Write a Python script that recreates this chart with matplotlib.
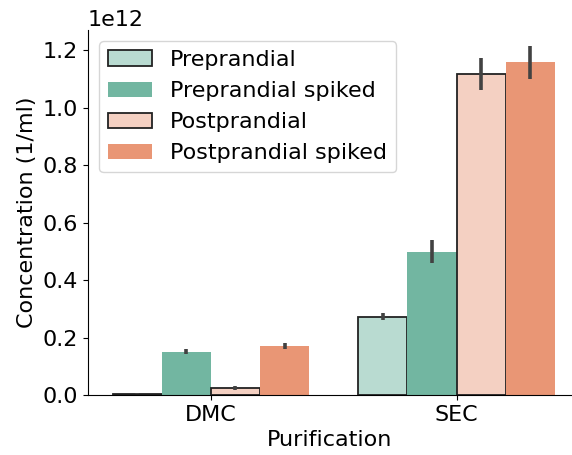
import numpy as np
import matplotlib.pyplot as plt

# mean concentration and error bar bounds (1/ml) per purification method
methods = ['DMC', 'SEC']
groups = ['Preprandial', 'Preprandial spiked', 'Postprandial', 'Postprandial spiked']
means = {
    'Preprandial':         [0.005e12, 0.273e12],
    'Preprandial spiked':  [0.150e12, 0.497e12],
    'Postprandial':        [0.026e12, 1.117e12],
    'Postprandial spiked': [0.171e12, 1.157e12],
}
lows = {
    'Preprandial':         [0.003e12, 0.262e12],
    'Preprandial spiked':  [0.141e12, 0.459e12],
    'Postprandial':        [0.019e12, 1.062e12],
    'Postprandial spiked': [0.159e12, 1.100e12],
}
highs = {
    'Preprandial':         [0.007e12, 0.284e12],
    'Preprandial spiked':  [0.160e12, 0.541e12],
    'Postprandial':        [0.033e12, 1.171e12],
    'Postprandial spiked': [0.182e12, 1.216e12],
}

colors = ['#b9dbd1', '#72b6a1', '#f4d0c2', '#e99675']
edges = ['#222222', 'none', '#222222', 'none']

fs = 16

fig = plt.figure(figsize=(5.72, 4.55), dpi=100)
ax = fig.add_axes([88 / 572, 60 / 455, 1 - 88 / 572, 365 / 455])

x = np.arange(len(methods))
width = 0.8 / len(groups)
for i, g in enumerate(groups):
    pos = x - 0.4 + width * (i + 0.5)
    m = np.array(means[g])
    ax.bar(pos, m, width, color=colors[i], edgecolor=edges[i],
           linewidth=1.3, label=g, zorder=2)
    err = [m - np.array(lows[g]), np.array(highs[g]) - m]
    ax.errorbar(pos, m, yerr=err, fmt='none', ecolor='#424242',
                elinewidth=2.6, capsize=0, zorder=3)

ax.set_xlim(-0.5, 1.47)
ax.set_ylim(0, 1.27e12)
ax.set_yticks(np.arange(0, 1.21e12, 0.2e12))
ax.set_xticks(x)
ax.set_xticklabels(methods)
ax.tick_params(labelsize=fs)
ax.yaxis.get_offset_text().set_fontsize(fs)
ax.set_xlabel('Purification', fontsize=fs)
ax.set_ylabel('Concentration (1/ml)', fontsize=fs)
ax.spines['top'].set_visible(False)
ax.spines['right'].set_visible(False)
ax.legend(loc='upper left', fontsize=fs, handlelength=2.0)

plt.savefig('out.png', dpi=100)
